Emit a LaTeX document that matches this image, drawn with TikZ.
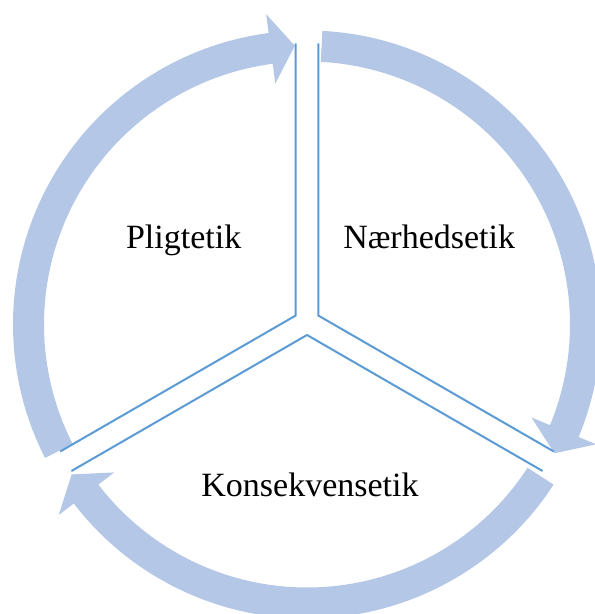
\documentclass[tikz,border=0pt]{standalone}
\usepackage{fontspec}
\setmainfont{Liberation Serif}
\usetikzlibrary{calc}
\definecolor{ringblue}{RGB}{180,199,231}
\definecolor{edgeblue}{RGB}{91,155,213}
\tikzset{
  cycle arrow/.style={fill=ringblue, draw=none},
  sector edge/.style={draw=edgeblue, line width=2pt},
  label text/.style={font=\fontsize{34}{40}\selectfont, anchor=base},
}

\begin{document}
\begin{tikzpicture}[x=1pt, y=1pt]
  \useasboundingbox (0,0) rectangle (595,614);
  \clip (0,0) rectangle (595,614);

  % Centres of the ring and of the exploded pie
  \coordinate (R) at (307,289.5);
  \coordinate (P) at (307,292);

  % Three curved arrows round the ring (clockwise)
  \foreach \a in {207,87,-33} {
    \pgfmathsetmacro{\headbase}{\a-109.5}
    \pgfmathsetmacro{\headtip}{\a-114.5}
    \fill[cycle arrow, shift={(R)}]
      (\a:294) arc[start angle=\a, end angle=\headbase, radius=294]
      -- (\headbase:313) -- (\headtip:279) -- (\headbase:243) -- (\headbase:263)
      arc[start angle=\headbase, end angle=\a, radius=263] -- cycle;
  }

  % Sector corners, pushed out from the pie centre
  \coordinate (S1) at ($(P)+(150:13)$);
  \coordinate (S2) at ($(P)+(30:13)$);
  \coordinate (S3) at ($(P)+(270:13)$);

  % Outer ends of the sector edges
  \coordinate (S1top) at ($(S1)+(90:272)$);
  \coordinate (S1low) at ($(S1)+(210:272)$);
  \coordinate (S2top) at ($(S2)+(90:272)$);
  \coordinate (S2low) at ($(S2)+(-30:272)$);
  \coordinate (S3left) at ($(S3)+(210:272)$);
  \coordinate (S3right) at ($(S3)+(-30:272)$);

  % Straight edges of the three sectors
  \draw[sector edge] (S1top) -- (S1) -- (S1low);
  \draw[sector edge] (S2top) -- (S2) -- (S2low);
  \draw[sector edge] (S3left) -- (S3) -- (S3right);

  % Labels
  \node[label text] (pligt) at (183.7,365.4) {Pligtetik};
  \node[label text] (naer) at (429.2,365.4) {Nærhedsetik};
  \node[label text] (konsek) at (310,117.5) {Konsekvensetik};

\end{tikzpicture}
\end{document}
